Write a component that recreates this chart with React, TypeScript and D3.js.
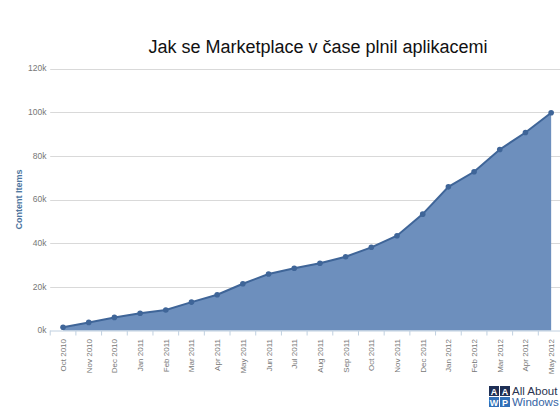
import React from "react";
import * as d3 from "d3";

const categories = [
  "Oct 2010", "Nov 2010", "Dec 2010", "Jan 2011", "Feb 2011", "Mar 2011", "Apr 2011",
  "May 2011", "Jun 2011", "Jul 2011", "Aug 2011", "Sep 2011", "Oct 2011", "Nov 2011",
  "Dec 2011", "Jan 2012", "Feb 2012", "Mar 2012", "Apr 2012", "May 2012",
];
const values = [
  1500, 3700, 6000, 7900, 9400, 13000, 16400, 21400, 25900, 28500, 30800, 33800,
  38100, 43400, 53300, 65800, 72700, 82900, 90700, 99700,
];
const yTicks = [0, 20000, 40000, 60000, 80000, 100000, 120000];
const yTickLabels = ["0k", "20k", "40k", "60k", "80k", "100k", "120k"];
const title = "Jak se Marketplace v čase plnil aplikacemi";
const yTitle = "Content Items";

export default function App() {
  const left = 50.2;
  const right = 564;
  const top = 68.5;
  const bottom = 330.5;
  const x = d3.scaleBand<string>().domain(categories).range([left, right]).padding(0);
  const y = d3.scaleLinear().domain([0, 120000]).range([bottom, top]);
  const cx = (c: string) => (x(c) as number) + x.bandwidth() / 2;
  const pts = categories.map((c, i) => [cx(c), y(values[i])] as [number, number]);
  const area = d3
    .area<[number, number]>()
    .x((d) => d[0])
    .y0(bottom)
    .y1((d) => d[1]);
  const line = d3.line<[number, number]>().x((d) => d[0]).y((d) => d[1]);
  const tickXs = categories.map((c) => x(c) as number).concat([right]);
  const font = "'Liberation Sans', Arial, sans-serif";

  return (
    <svg
      width={560}
      height={414}
      style={{ position: "absolute", left: 0, top: 0, background: "#fff" }}
      fontFamily={font}
    >
      <rect width={560} height={414} fill="#fff" />
      <text x={318} y={53} textAnchor="middle" fontSize={18} fill="#111">
        {title}
      </text>
      {yTicks.map((t, i) => (
        <g key={t}>
          {t > 0 && (
            <line x1={left} x2={right} y1={Math.round(y(t)) + 0.5} y2={Math.round(y(t)) + 0.5} stroke="#d9d9d9" strokeWidth={1} />
          )}
          <text x={46.5} y={y(t)} dy="0.35em" textAnchor="end" fontSize={8.5} fill="#777">
            {yTickLabels[i]}
          </text>
        </g>
      ))}
      <text
        transform={`translate(22,${(top + bottom) / 2}) rotate(-90)`}
        textAnchor="middle"
        fontSize={9}
        fontWeight="bold"
        fill="#4d759e"
      >
        {yTitle}
      </text>
      <path d={area(pts) as string} fill="#6d8fbd" />
      <path d={line(pts) as string} fill="none" stroke="#3f6598" strokeWidth={2} />
      {pts.map((p, i) => (
        <circle key={i} cx={p[0]} cy={p[1]} r={2.8} fill="#3f6598" />
      ))}
      <line x1={left} x2={right} y1={bottom + 0.5} y2={bottom + 0.5} stroke="#c0d0e0" strokeWidth={1} />
      {tickXs.map((tx, i) => (
        <line key={i} x1={tx} x2={tx} y1={bottom} y2={bottom + 5} stroke="#c0d0e0" strokeWidth={1} />
      ))}
      {categories.map((c) => (
        <text
          key={c}
          transform={`translate(${cx(c) + 3},339) rotate(-90)`}
          textAnchor="end"
          fontSize={8}
          fill="#777"
        >
          {c}
        </text>
      ))}
      <g>
        <rect x={489} y={386} width={10} height={10} fill="#1e2f55" />
        <rect x={500} y={386} width={10} height={10} fill="#1e2f55" />
        <rect x={489} y={397} width={10} height={10} fill="#2f6fb8" />
        <rect x={500} y={397} width={10} height={10} fill="#2f6fb8" />
        <text x={494} y={394.5} textAnchor="middle" fontSize={9} fontWeight="bold" fill="#fff">A</text>
        <text x={505} y={394.5} textAnchor="middle" fontSize={9} fontWeight="bold" fill="#fff">A</text>
        <text x={494} y={405.5} textAnchor="middle" fontSize={9} fontWeight="bold" fill="#fff">W</text>
        <text x={505} y={405.5} textAnchor="middle" fontSize={9} fontWeight="bold" fill="#fff">P</text>
        <text x={512} y={395} fontSize={11.5} fill="#2a3350">All About</text>
        <text x={512} y={406} fontSize={11.5} fill="#3565a5">Windows</text>
      </g>
    </svg>
  );
}
